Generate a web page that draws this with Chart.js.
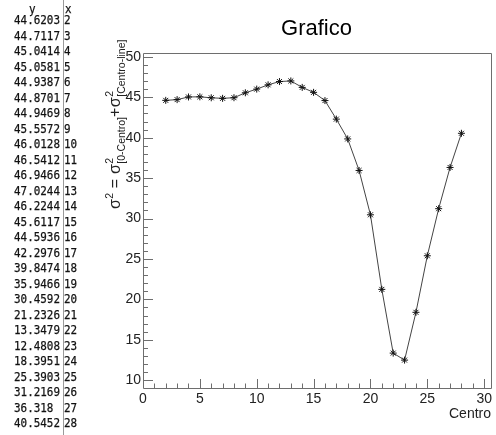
<!DOCTYPE html>
<html>
<head>
<meta charset="utf-8">
<title>Grafico</title>
<script src="https://cdn.jsdelivr.net/npm/chart.js@4/dist/chart.umd.min.js"></script>
<style>
  body { margin: 0; background: #fff; width: 496px; height: 435px; overflow: hidden; position: relative; }
  #plot { position: absolute; left: 0; top: 0; }
  .tbl { position: absolute; font-family: "DejaVu Sans Mono", monospace; font-size: 13px;
         color: #111; -webkit-text-stroke: 0.25px #111; white-space: pre; line-height: 15.5px;
         transform: scaleX(0.84); transform-origin: left top; }
  #divider { position: absolute; left: 63px; top: 0; width: 1px; height: 435px; background: #9a9a9a; }
</style>
</head>
<body>
<canvas id="plot" width="496" height="435"></canvas>
<div class="tbl" style="left:29px;top:1px">y</div>
<div class="tbl" style="left:65px;top:1px">x</div>
<div id="colY" class="tbl" style="left:14px;top:12px"></div>
<div id="colX" class="tbl" style="left:64px;top:12px"></div>
<div id="divider"></div>
<script>
const xValues = [2, 3, 4, 5, 6, 7, 8, 9, 10, 11, 12, 13, 14, 15, 16, 17, 18, 19, 20, 21, 22, 23, 24, 25, 26, 27, 28];
const yValues = [44.6203, 44.7117, 45.0414, 45.0581, 44.9387, 44.8701, 44.9469, 45.5572, 46.0128, 46.5412,
                 46.9466, 47.0244, 46.2244, 45.6117, 44.5936, 42.2976, 39.8474, 35.9466, 30.4592, 21.2326,
                 13.3479, 12.4808, 18.3951, 25.3903, 31.2169, 36.318, 40.5452];
const xTicks = [0, 5, 10, 15, 20, 25, 30];
const yTicks = [10, 15, 20, 25, 30, 35, 40, 45, 50];
const chartTitle = 'Grafico';
const xTitle = 'Centro';
const yTitleParts = [
  { base: 'σ', sup: '2' },
  { base: ' = ' },
  { base: 'σ', sup: '2', sub: '[0-Centro]' },
  { base: '+' },
  { base: 'σ', sup: '2', sub: '[Centro-line]' }
];

// value listing on the left
document.getElementById('colY').textContent = yValues.map(String).join('\n');
document.getElementById('colX').textContent = xValues.map(String).join('\n');

const FONT = '"Liberation Sans", Arial, sans-serif';

// ROOT-like frame, inward ticks and the titles
const rootFrame = {
  id: 'rootFrame',
  afterDraw(chart) {
    const { ctx, chartArea: a, scales: { x, y } } = chart;
    ctx.save();
    ctx.strokeStyle = '#6e6e6e';
    ctx.lineWidth = 1;
    ctx.beginPath();
    ctx.rect(a.left + 0.5, a.top + 0.5, a.right - a.left, a.bottom - a.top);
    for (let v = Math.ceil(x.min); v <= x.max; v++) {
      const px = Math.round(x.getPixelForValue(v)) + 0.5;
      const len = xTicks.includes(v) ? 9 : 4.5;
      ctx.moveTo(px, a.bottom);
      ctx.lineTo(px, a.bottom - len);
    }
    for (let v = Math.ceil(y.min); v <= y.max; v++) {
      const py = Math.round(y.getPixelForValue(v)) + 0.5;
      const len = yTicks.includes(v) ? 10 : 5;
      ctx.moveTo(a.left, py);
      ctx.lineTo(a.left + len, py);
    }
    ctx.stroke();

    ctx.fillStyle = '#000';
    ctx.font = '22px ' + FONT;
    ctx.textAlign = 'center';
    ctx.textBaseline = 'alphabetic';
    ctx.fillText(chartTitle, 316.5, 35);

    // rotated y title with super/subscripts, read bottom to top
    const mainFont = '16px ' + FONT;
    const smallFont = '10.5px ' + FONT;
    const widths = yTitleParts.map(p => {
      ctx.font = mainFont;
      const wb = ctx.measureText(p.base).width;
      ctx.font = smallFont;
      const ws = Math.max(p.sup ? ctx.measureText(p.sup).width : 0, p.sub ? ctx.measureText(p.sub).width : 0);
      return [wb, ws];
    });
    ctx.fillStyle = '#222';
    ctx.textAlign = 'left';
    ctx.translate(120, 209);
    ctx.rotate(-Math.PI / 2);
    let cx = 0;
    yTitleParts.forEach((p, i) => {
      const [wb, ws] = widths[i];
      ctx.font = mainFont;
      ctx.fillText(p.base, cx, 0);
      ctx.font = smallFont;
      if (p.sup) ctx.fillText(p.sup, cx + wb + 0.5, -7);
      if (p.sub) ctx.fillText(p.sub, cx + wb + 0.5, 5);
      cx += wb + ws + 0.5;
    });
    ctx.restore();
  }
};

new Chart(document.getElementById('plot'), {
  type: 'line',
  data: {
    datasets: [{
      data: xValues.map((x, i) => ({ x: x, y: yValues[i] })),
      borderColor: '#444',
      borderWidth: 1,
      pointStyle: 'star',
      pointRadius: 3.5,
      pointBorderColor: '#111',
      pointBackgroundColor: '#111',
      pointBorderWidth: 1,
      fill: false,
      tension: 0
    }]
  },
  options: {
    responsive: false,
    animation: false,
    events: [],
    layout: { padding: { top: 53, right: 1, left: 0, bottom: 0 } },
    plugins: { legend: { display: false }, tooltip: { enabled: false } },
    scales: {
      x: {
        type: 'linear',
        min: 0,
        max: 30.6,
        grid: { display: false, drawTicks: false },
        border: { display: false },
        afterBuildTicks: s => { s.ticks = xTicks.map(v => ({ value: v })); },
        afterFit: s => { s.height = 47; },
        ticks: { padding: 3, color: '#222', autoSkip: false, maxRotation: 0, font: { family: FONT, size: 14 } },
        title: { display: true, text: xTitle, align: 'end', color: '#222',
                 font: { family: FONT, size: 14 }, padding: { top: 0, bottom: 12 } }
      },
      y: {
        type: 'linear',
        min: 9.03,
        max: 50.48,
        grid: { display: false, drawTicks: false },
        border: { display: false },
        afterBuildTicks: s => { s.ticks = yTicks.map(v => ({ value: v })); },
        afterFit: s => { s.width = 143; },
        ticks: { padding: 2, color: '#222', font: { family: FONT, size: 14 } }
      }
    }
  },
  plugins: [rootFrame]
});
</script>
</body>
</html>
